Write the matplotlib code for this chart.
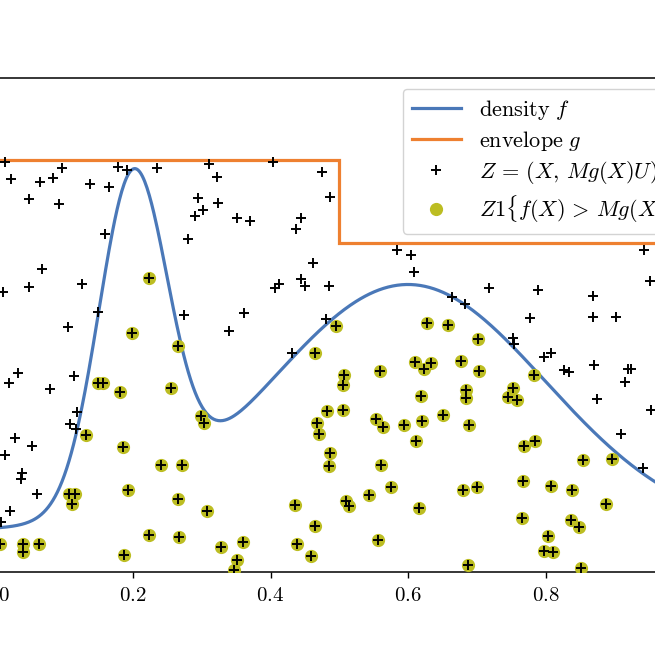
import numpy as np
import matplotlib
matplotlib.use("Agg")
import matplotlib.pyplot as plt
from matplotlib.lines import Line2D

plt.rcParams['mathtext.fontset'] = 'cm'

# density f = uniform part + two normal bumps
f_base = 0.2
f_weights = [0.2, 0.6]
f_means = [0.2, 0.6]
f_sds = [0.05, 0.2]

# envelope M*g, piecewise constant
env_edges = [0.0, 0.5, 1.0]
env_levels = [2.0, 1.6]

# rejected draws Z = (X, Mg(X)U)
rej_x = [0.014, 0.023, 0.049, 0.065, 0.084, 0.097, 0.092, 0.137, 0.165, 0.178,
         0.191, 0.235, 0.311, 0.322, 0.295, 0.324, 0.302, 0.290, 0.280, 0.159,
         0.068, 0.126, 0.049, 0.011, 0.149, 0.274, 0.105, 0.404, 0.475, 0.487,
         0.351, 0.370, 0.444, 0.437, 0.584, 0.604, 0.609, 0.462, 0.412, 0.407,
         0.444, 0.450, 0.485, 0.361, 0.340, 0.481, 0.431, 0.943, 0.952, 0.718,
         0.789, 0.869, 0.664, 0.683, 0.777, 0.869, 0.903, 0.753, 0.754, 0.808,
         0.798, 0.033, 0.020, 0.079, 0.114, 0.119, 0.108, 0.117, 0.028, 0.053,
         0.014, 0.039, 0.037, 0.060, 0.021, 0.008, 0.827, 0.834, 0.871, 0.920,
         0.924, 0.916, 0.875, 0.953, 0.910, 0.942]
rej_y = [1.990, 1.908, 1.811, 1.893, 1.913, 1.961, 1.786, 1.883, 1.869, 1.966,
         1.951, 1.961, 1.981, 1.917, 1.816, 1.791, 1.757, 1.728, 1.617, 1.641,
         1.471, 1.398, 1.383, 1.359, 1.262, 1.248, 1.189, 1.990, 1.942, 1.820,
         1.718, 1.704, 1.718, 1.665, 1.563, 1.539, 1.456, 1.500, 1.398, 1.379,
         1.422, 1.388, 1.388, 1.257, 1.170, 1.228, 1.063, 1.563, 1.413, 1.379,
         1.369, 1.340, 1.335, 1.301, 1.233, 1.238, 1.238, 1.136, 1.107, 1.063,
         1.044, 0.966, 0.917, 0.888, 0.951, 0.777, 0.718, 0.694, 0.650, 0.612,
         0.568, 0.481, 0.451, 0.379, 0.296, 0.243, 0.981, 0.971, 1.005, 0.985,
         0.985, 0.922, 0.840, 0.786, 0.670, 0.505]

# accepted draws (under f)
acc_x = [0.223, 0.199, 0.265, 0.495, 0.465, 0.628, 0.658, 0.702, 0.677, 0.149,
         0.156, 0.181, 0.255, 0.132, 0.185, 0.299, 0.303, 0.241, 0.271, 0.107,
         0.116, 0.111, 0.193, 0.265, 0.308, 0.223, 0.267, 0.007, 0.040, 0.063,
         0.040, 0.187, 0.328, 0.507, 0.505, 0.559, 0.610, 0.623, 0.633, 0.619,
         0.482, 0.505, 0.468, 0.471, 0.553, 0.564, 0.594, 0.620, 0.612, 0.487,
         0.485, 0.561, 0.575, 0.543, 0.510, 0.514, 0.616, 0.436, 0.465, 0.556,
         0.439, 0.459, 0.360, 0.351, 0.347, 0.703, 0.783, 0.684, 0.684, 0.753,
         0.745, 0.759, 0.651, 0.689, 0.769, 0.785, 0.855, 0.897, 0.680, 0.700,
         0.767, 0.808, 0.839, 0.888, 0.766, 0.837, 0.849, 0.804, 0.798, 0.811,
         0.687, 0.852]
acc_y = [1.427, 1.160, 1.097, 1.194, 1.063, 1.209, 1.199, 1.131, 1.024, 0.917,
         0.917, 0.874, 0.893, 0.665, 0.607, 0.757, 0.723, 0.519, 0.519, 0.379,
         0.379, 0.330, 0.398, 0.354, 0.296, 0.180, 0.170, 0.136, 0.136, 0.136,
         0.097, 0.083, 0.121, 0.956, 0.908, 0.976, 1.019, 0.985, 1.015, 0.854,
         0.782, 0.786, 0.723, 0.670, 0.743, 0.704, 0.714, 0.733, 0.636, 0.578,
         0.515, 0.519, 0.413, 0.374, 0.345, 0.320, 0.311, 0.325, 0.223, 0.155,
         0.136, 0.078, 0.146, 0.058, 0.010, 0.976, 0.956, 0.883, 0.845, 0.893,
         0.850, 0.835, 0.762, 0.714, 0.612, 0.636, 0.544, 0.549, 0.398, 0.413,
         0.442, 0.417, 0.398, 0.330, 0.262, 0.252, 0.218, 0.175, 0.102, 0.097,
         0.034, 0.019]

blue = '#4a78b8'
orange = '#ee8030'
olive = '#bcbd22'

fig = plt.figure(figsize=(6.55, 6.55), dpi=100)
ax = fig.add_axes([-4.5 / 655, 83 / 655, 687.5 / 655, 494 / 655])

xs = np.linspace(0, 1, 600)
dens = f_base + sum(w * np.exp(-(xs - m) ** 2 / (2 * s ** 2)) / (s * np.sqrt(2 * np.pi))
                    for w, m, s in zip(f_weights, f_means, f_sds))
ax.plot(xs, dens, color=blue, lw=2.3, zorder=3)
ax.stairs(env_levels, env_edges, baseline=None, color=orange, lw=2.3, zorder=3)

ax.plot(acc_x, acc_y, 'o', color=olive, ms=9.5, mec='none', zorder=4)
ax.plot(rej_x + acc_x, rej_y + acc_y, '+', color='black', ms=6.5, mew=1.4, zorder=5)

ax.set_xlim(0, 1)
ax.set_ylim(0, 2.4)
ax.set_xticks([0, 0.2, 0.4, 0.6, 0.8, 1.0])
ax.set_xticklabels([r'$%.1f$' % v for v in [0, 0.2, 0.4, 0.6, 0.8, 1.0]], fontsize=15)
ax.tick_params(axis='x', length=4.5, width=1.0, pad=5)
ax.set_yticks([])
for sp in ax.spines.values():
    sp.set_linewidth(1.1)

handles = [
    Line2D([], [], color=blue, lw=2.3),
    Line2D([], [], color=orange, lw=2.3),
    Line2D([], [], ls='none', marker='+', color='black', ms=6.5, mew=1.4),
    Line2D([], [], ls='none', marker='o', color=olive, ms=9.5, mec='none'),
]
labels = [r'$\mathrm{density}\ f$', r'$\mathrm{envelope}\ g$',
          r'$Z\,=\,(X,\,Mg(X)U)$', r'$Z1\{f(X)\,>\,Mg(X)U\}$']
ax.legend(handles, labels, loc='upper left', bbox_to_anchor=(403 / 655, 1 - 89 / 655),
          bbox_transform=fig.transFigure, borderaxespad=0, fontsize=16,
          labelspacing=0.3, handlelength=2.2, edgecolor='0.8', framealpha=0.85)

fig.savefig('out.png', dpi=100)
